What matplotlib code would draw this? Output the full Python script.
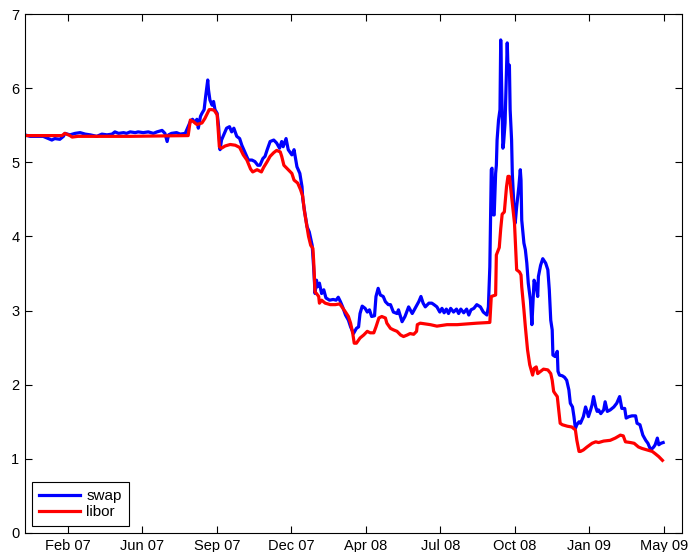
"""swap vs libor rates, 2007-2009."""
import numpy as np
import matplotlib
matplotlib.use('Agg')
import matplotlib.pyplot as plt

plt.rcParams['font.family'] = ['Liberation Sans', 'DejaVu Sans']

# x is days since 2007-01-01, y is rate in %
swap_day = [0, 7, 16, 25, 32, 37, 41, 48, 53, 55, 62, 69, 76, 83, 90, 99, 106, 113, 120, 124,
            129, 136, 140, 145, 152, 156, 163, 170, 177, 182, 189, 193, 196, 198, 202, 209, 214, 221,
            228, 231, 235, 237, 239, 242, 244, 247, 249, 252, 253, 255, 258, 260, 262, 265, 267, 269,
            271, 274, 278, 282, 285, 288, 292, 296, 299, 304, 308, 313, 317, 321, 324, 328, 331, 334,
            338, 343, 347, 351, 354, 356, 360, 363, 368, 371, 375, 379, 382,
            383, 386, 389, 392, 396, 398, 399, 400, 402, 403, 406, 409, 412, 415, 420, 425, 429, 432,
            435, 438, 442, 446, 449, 453, 457, 460, 462, 465, 469, 472, 475, 478, 482, 484, 487, 490,
            494, 497, 501, 504, 508, 513, 515, 520, 524, 529, 534, 538, 543, 546, 549, 552, 557, 561,
            564, 568, 572, 575, 578, 581, 584, 587, 591, 595, 598, 601, 605, 609, 612, 615, 619, 623,
            628, 632, 637, 639, 641, 643, 644, 646, 647, 649, 650, 651, 653, 655, 656, 659, 660, 662,
            665, 666, 668, 669, 671, 672, 674, 676, 678, 681, 683, 684, 685, 688, 690, 692, 694, 697,
            699, 700, 702, 705, 707, 708, 711, 714, 718, 721, 723, 725, 727, 728, 731, 734, 735, 737,
            741, 744, 747, 750, 752, 755, 757, 759, 761, 764, 766, 770, 773, 775, 777, 780, 782, 784,
            787, 789, 791, 794, 798, 800, 803, 807, 812, 816, 820, 823, 827, 829, 833, 837, 842, 844,
            848, 850, 852, 856, 859, 862, 865, 867, 869, 872, 874, 877, 880]
swap_rate = [5.37, 5.35, 5.35, 5.35, 5.32, 5.30, 5.32, 5.31, 5.35, 5.39, 5.37, 5.39, 5.40, 5.38, 5.37,
             5.35, 5.38, 5.37, 5.38, 5.41, 5.39, 5.40, 5.39, 5.41, 5.40, 5.41, 5.40, 5.41, 5.39, 5.41,
             5.43, 5.39, 5.28, 5.37, 5.39, 5.40, 5.38, 5.39,
             5.55, 5.58, 5.53, 5.58, 5.46, 5.62, 5.66, 5.71, 5.88, 6.11, 5.98, 5.84, 5.77, 5.82, 5.71,
             5.66, 5.48, 5.17, 5.30, 5.37, 5.46, 5.48, 5.41, 5.46, 5.35, 5.32, 5.23, 5.12, 5.03, 5.03,
             5.01, 4.96, 4.96, 5.05, 5.08, 5.17, 5.28, 5.30, 5.26, 5.19, 5.28, 5.21, 5.32, 5.17, 5.10,
             5.17, 4.94, 4.85, 4.67,
             4.51, 4.31, 4.13, 4.06, 3.88, 3.59, 3.41, 3.23, 3.41, 3.32, 3.37, 3.23, 3.28, 3.17, 3.14,
             3.15, 3.14, 3.18, 3.12, 3.05, 2.94, 2.87, 2.78, 2.69, 2.76, 2.78, 2.96, 3.06, 3.03, 2.98,
             3.01, 2.92, 2.93, 3.19, 3.30, 3.21, 3.19, 3.12, 3.08, 3.08, 2.98, 2.96, 3.01, 2.85, 2.92,
             3.05, 2.96, 3.03, 3.12, 3.19, 3.10, 3.05, 3.10, 3.10, 3.08, 3.05, 2.98, 3.03, 2.97, 3.02,
             2.96, 3.03, 2.98, 3.02, 2.96, 3.02, 2.97, 3.02, 2.94, 3.01, 3.03, 3.08, 3.05, 2.98, 2.94,
             3.05, 3.59, 4.90, 4.92, 4.29, 4.29, 4.85, 4.96, 5.30, 5.57, 5.71, 6.65, 5.19, 5.26, 5.53,
             6.61, 6.29, 6.31, 5.71, 5.30, 4.85, 4.45, 4.18, 4.40, 4.67, 4.90, 4.76, 4.22, 3.91, 3.82,
             3.64, 3.37, 3.14, 2.81, 3.01, 3.41, 3.32, 3.19, 3.46, 3.61, 3.70, 3.64, 3.55, 3.28, 2.87,
             2.74, 2.40, 2.38, 2.45, 2.18, 2.13, 2.12, 2.10, 2.06, 1.93, 1.75, 1.70, 1.57, 1.41, 1.46,
             1.50, 1.48, 1.57, 1.70, 1.64, 1.57, 1.66, 1.73, 1.84, 1.70, 1.64, 1.66, 1.61, 1.66, 1.77,
             1.64, 1.66, 1.70, 1.75, 1.84, 1.68, 1.68, 1.55, 1.57, 1.58, 1.58, 1.48, 1.46, 1.39, 1.32,
             1.25, 1.21, 1.14, 1.14, 1.16, 1.19, 1.28, 1.19, 1.21, 1.22]

libor_day = [0, 51, 55, 62, 65, 73, 145, 225, 228, 232, 237, 244, 248, 254, 258, 261, 265, 268, 271,
             276, 283, 290, 296, 301, 306, 311, 314, 320, 326, 329, 334, 338, 343, 347, 352, 354, 357,
             363, 368, 371, 376, 380, 383, 385, 388, 391, 394, 397, 398, 399, 400, 402, 405, 406, 409,
             414, 421, 428, 434, 437, 442, 446, 449, 452, 454, 457, 462, 467, 472, 476, 481, 484, 488,
             492, 497, 499, 504, 508, 513, 518, 522, 527, 531, 536, 540, 541, 545, 552, 559, 568, 582,
             596, 610, 623, 641, 643, 649, 650, 654, 656, 658, 661, 664, 666, 668, 670, 673, 675, 678,
             682, 684, 685, 688, 690, 693, 696, 698, 700, 702, 705, 707, 711, 715, 721, 725, 727, 729,
             731, 734, 736, 738, 741, 748, 754, 759, 761, 764, 766, 770, 775, 782, 787, 791, 798, 807,
             814, 821, 825, 828, 835, 840, 846, 851, 858, 865, 869, 874, 879]
libor_rate = [5.36, 5.36, 5.39, 5.36, 5.34, 5.35, 5.35, 5.36, 5.57, 5.55, 5.51, 5.53, 5.59, 5.71, 5.71,
              5.70, 5.64, 5.21, 5.19, 5.22, 5.24, 5.23, 5.20, 5.10, 5.03, 4.91, 4.87, 4.90, 4.87, 4.93,
              5.01, 5.08, 5.13, 5.16, 5.14, 5.08, 4.96, 4.90, 4.85, 4.76, 4.72, 4.63, 4.54, 4.36, 4.18,
              4.00, 3.88, 3.84, 3.68, 3.46, 3.25, 3.23, 3.19, 3.10, 3.14, 3.10, 3.08, 3.08, 3.09, 3.05,
              2.98, 2.92, 2.83, 2.69, 2.56, 2.56, 2.63, 2.67, 2.72, 2.70, 2.70, 2.78, 2.90, 2.92, 2.90,
              2.83, 2.76, 2.74, 2.72, 2.67, 2.65, 2.67, 2.69, 2.68, 2.72, 2.81, 2.83, 2.82, 2.81, 2.79,
              2.81, 2.81, 2.82, 2.83, 2.84, 3.19, 3.21, 3.75, 3.85, 4.10, 4.30, 4.33, 4.67, 4.81, 4.81,
              4.63, 4.36, 4.18, 3.55, 3.52, 3.48, 3.32, 3.01, 2.78, 2.47, 2.27, 2.20, 2.13, 2.22, 2.24,
              2.15, 2.18, 2.21, 2.20, 2.15, 2.06, 1.91, 1.88, 1.84, 1.66, 1.48, 1.46, 1.44, 1.43, 1.39,
              1.25, 1.10, 1.10, 1.12, 1.16, 1.21, 1.23, 1.22, 1.24, 1.25, 1.28, 1.32, 1.31, 1.23, 1.22,
              1.21, 1.16, 1.14, 1.12, 1.10, 1.07, 1.03, 0.98]

tick_days = [59, 161.75, 264.5, 367.25, 470, 572.75, 675.5, 778.25, 881]
tick_labels = ['Feb 07', 'Jun 07', 'Sep 07', 'Dec 07', 'Apr 08', 'Jul 08', 'Oct 08', 'Jan 09', 'May 09']

fig = plt.figure(figsize=(6.88, 5.52), dpi=100)
ax = fig.add_axes([25 / 688, 19 / 552, 657 / 688, 519 / 552])

ax.plot(swap_day, swap_rate, color='#0000ff', lw=2.3, label='swap')
ax.plot(libor_day, libor_rate, color='#ff0000', lw=2.3, label='libor')

ax.set_xlim(0, 906)
ax.set_ylim(0, 7)
ax.set_xticks(tick_days)
ax.set_xticklabels(tick_labels)
ax.set_yticks(range(0, 8))
ax.tick_params(direction='in', top=True, right=True, length=5, width=0.8,
               labelsize=10.5, pad=4)
for s in ax.spines.values():
    s.set_linewidth(0.8)

leg = ax.legend(loc='lower left', bbox_to_anchor=(0.011, 0.014), borderaxespad=0,
                fontsize=11, handlelength=2.7, fancybox=False, framealpha=1,
                borderpad=0.45, labelspacing=0.1, handletextpad=0.4)
leg.get_frame().set_edgecolor('black')
leg.get_frame().set_linewidth(0.8)

fig.savefig('out.png', dpi=100)
